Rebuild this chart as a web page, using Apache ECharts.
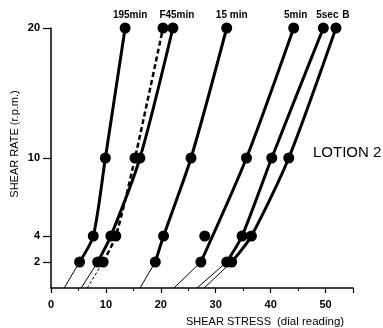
<!DOCTYPE html>
<html><head><meta charset="utf-8">
<script src="https://cdn.jsdelivr.net/npm/echarts@6/dist/echarts.min.js"></script>
<style>html,body{margin:0;padding:0;background:#fff}#c{width:383px;height:328px}</style>
</head><body><div id="c"></div>
<script>
// shear rate levels (r.p.m.) at which each curve was read
const yLevels = [0, 2, 4, 10, 20];
const yTickValues = [2, 4, 10, 20];
// shear stress (dial reading) for each curve at the levels above
const curve195min = [2.4, 5.2, 7.7, 9.9, 13.5];
const curveF45minDashed = [6.6, 9.5, 11.8, 15.3, 20.4];
const curveF45min = [5.5, 8.5, 10.9, 16.2, 22.2];
const curve15min = [16.2, 19.0, 20.5, 25.5, 32.0];
const curve5min = [22.4, 27.3, 28.0, 35.6, 44.2]; // point at 4 rpm lies off the curve
const curve5sec = [26.6, 32.0, 34.8, 40.2, 49.6];
const curveB = [27.9, 32.9, 36.5, 43.3, 51.9];
const curveLabels = ['195min', 'F45min', '15 min', '5min', '5sec', 'B'];

const INK = '#000';
const FONT = 'Liberation Sans';

const curves = [
  {xs: curve195min, dashed: false, line: [1, 2, 3, 4]},
  {xs: curveF45minDashed, dashed: true, line: [1, 2, 3, 4]},
  {xs: curveF45min, dashed: false, line: [1, 2, 3, 4]},
  {xs: curve15min, dashed: false, line: [1, 2, 3, 4]},
  {xs: curve5min, dashed: false, line: [1, 3, 4]},
  {xs: curve5sec, dashed: false, line: [1, 2, 3, 4]},
  {xs: curveB, dashed: false, line: [1, 2, 3, 4]}
];

const series = [];
const markers = [];
curves.forEach(c => {
  series.push({
    type: 'line', data: [[c.xs[0], yLevels[0]], [c.xs[1], yLevels[1]]],
    symbol: 'none', silent: true,
    lineStyle: {color: INK, width: 1, type: c.dashed ? [3, 2] : 'solid'}, z: 2
  });
  series.push({
    type: 'line', data: c.line.map(i => [c.xs[i], yLevels[i]]),
    symbol: 'none', smooth: 0.25, silent: true,
    lineStyle: {color: INK, width: c.dashed ? 2.5 : 3, type: c.dashed ? [5, 3] : 'solid'}, z: 3
  });
  for (let i = 1; i < yLevels.length; i++) markers.push([c.xs[i], yLevels[i]]);
});
series.push({
  type: 'scatter', data: markers, symbol: 'circle', symbolSize: 11, clip: false,
  itemStyle: {color: INK, opacity: 1}, z: 5
});
const labelAnchors = [curve195min, curveF45min, curve15min, curve5min, curve5sec, curveB];
const labelDx = [5, 4, 5, 2, 4, 10];
series.push({
  type: 'scatter', clip: false, symbolSize: 1, itemStyle: {color: 'rgba(0,0,0,0)', opacity: 1}, z: 6,
  data: labelAnchors.map((xs, k) => ({
    value: [xs[4], yLevels[4]],
    label: {show: true, position: 'inside', offset: [labelDx[k], -13], formatter: curveLabels[k],
      color: INK, opacity: 1, fontFamily: FONT, fontSize: 10, fontWeight: 'bold'}
  }))
});

const chart = echarts.init(document.getElementById('c'), null, {renderer: 'canvas'});
chart.setOption({
  animation: false,
  backgroundColor: '#fff',
  grid: {left: 51, right: 30, top: 28, bottom: 40},
  xAxis: {
    type: 'value', min: 0, max: 55, interval: 10,
    axisLine: {lineStyle: {color: INK, width: 1.5}},
    axisTick: {show: true, length: 5, lineStyle: {color: INK, width: 1.2}},
    minorTick: {show: true, splitNumber: 2, length: 3, lineStyle: {color: INK}},
    splitLine: {show: false},
    axisLabel: {color: INK, fontFamily: FONT, fontSize: 11, fontWeight: 'bold', margin: 11, showMaxLabel: false}
  },
  yAxis: {
    type: 'value', min: 0, max: 20,
    axisLine: {show: true, lineStyle: {color: INK, width: 1.5}},
    axisTick: {show: true, length: 8, customValues: yTickValues, lineStyle: {color: INK, width: 1.2}},
    splitLine: {show: false},
    axisLabel: {color: INK, fontFamily: FONT, fontSize: 11, fontWeight: 'bold', margin: 11, customValues: yTickValues}
  },
  graphic: [
    {type: 'text', left: 313, top: 145, style: {text: 'LOTION 2', fill: INK, font: '15px "Liberation Sans"'}},
    {type: 'text', left: 186, top: 316, style: {text: 'SHEAR STRESS', fill: INK, font: '11px "Liberation Sans"'}},
    {type: 'text', left: 277, top: 316, style: {text: '(dial reading)', fill: INK, font: '11.5px "Liberation Sans"'}},
    {type: 'text', x: 15, y: 144, rotation: Math.PI / 2,
      style: {text: 'SHEAR RATE (r.p.m.)', fill: INK, font: '11px "Liberation Sans"', align: 'center', verticalAlign: 'middle'}}
  ],
  series: series
});
</script></body></html>
